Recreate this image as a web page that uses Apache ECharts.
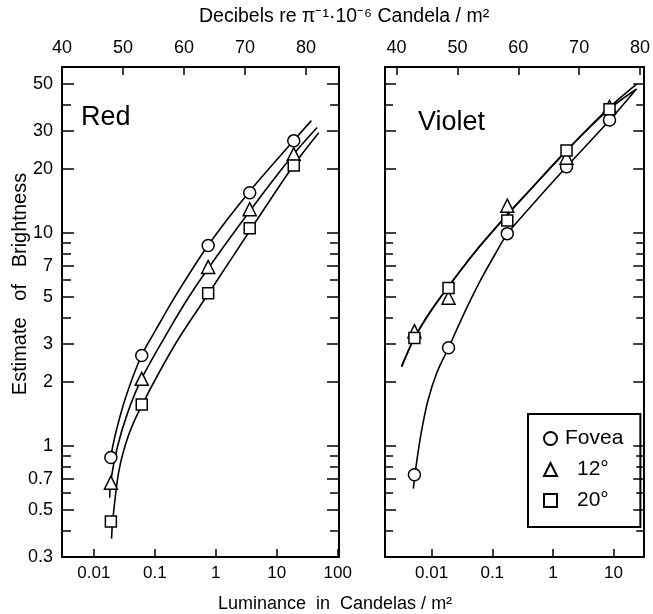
<!DOCTYPE html>
<html>
<head>
<meta charset="utf-8">
<script src="https://cdn.jsdelivr.net/npm/echarts@6/dist/echarts.min.js"></script>
<style>
	html, body { margin: 0; padding: 0; background: #fff; }
	#chart { width: 653px; height: 614px; }
</style>
</head>
<body>
<div id="chart"></div>
<script>
	// stimulus luminance (cd/m2) and brightness estimates
	const redLuminance = [0.019, 0.061, 0.75, 3.6, 19];
	const redFovea = [0.88, 2.65, 8.7, 15.4, 27];
	const red12 = [0.67, 2.06, 6.9, 12.9, 23.4];
	const red20 = [0.44, 1.56, 5.2, 10.5, 20.7];

	const violetLuminance = [0.0052, 0.019, 0.177, 1.68, 8.6];
	const violetFovea = [0.73, 2.88, 9.9, 20.4, 33.8];
	const violet12 = [3.45, 4.95, 13.4, 22.5, 39];
	const violet20 = [3.2, 5.5, 11.4, 24.3, 38];

	// fitted curves, [luminance, estimate]
	const redFoveaCurve = [[0.0188, 0.88], [0.0227, 1.14], [0.0331, 1.68], [0.0605, 2.65], [0.102, 3.47], [0.21, 4.96], [0.745, 8.7], [3.44, 15.4], [18.8, 27], [37, 33.6]];
	const red12Curve = [[0.0182, 0.57], [0.0188, 0.67], [0.0242, 0.98], [0.0353, 1.41], [0.0605, 2.06], [0.168, 3.47], [0.356, 4.96], [0.767, 6.87], [3.8, 12.9], [19, 23.4], [45.9, 31.2]];
	const red20Curve = [[0.0195, 0.366], [0.0203, 0.44], [0.0257, 0.76], [0.0375, 1.13], [0.062, 1.56], [0.218, 3.01], [0.759, 5.18], [3.85, 10.5], [18.8, 20.7], [48.9, 29.5]];
	const violetFoveaCurve = [[0.00498, 0.628], [0.0057, 0.85], [0.00683, 1.176], [0.00867, 1.626], [0.01217, 2.2], [0.019, 2.88], [0.0348, 4.21], [0.0635, 5.95], [0.115, 8.05], [0.178, 9.9], [0.405, 13.0], [1.68, 20.4], [8.7, 33.8], [24.1, 47.4]];
	const violet20Curve = [[0.00319, 2.35], [0.00513, 3.18], [0.00927, 4.21], [0.0178, 5.46], [0.054, 8.23], [0.17, 12.0], [0.405, 15.7], [1.68, 24.3], [8.5, 38.7], [24.1, 49.9]];
	const violet12Curve = [[0.00319, 2.35], [0.00513, 3.18], [0.00927, 4.21], [0.0178, 5.46], [0.054, 8.23], [0.17, 12.0], [0.405, 15.7], [1.68, 24.3], [8.3, 37.8], [22.7, 46.8]];

	// axis ticks
	const luminanceTicks = [0.01, 0.1, 1, 10, 100];
	const decibelTicks = [40, 50, 60, 70, 80];
	const estimateLabels = [0.3, 0.5, 0.7, 1, 2, 3, 5, 7, 10, 20, 30, 50];
	const estimateMinor = [0.4, 0.6, 0.8, 0.9, 4, 6, 8, 9, 40];

	const FONT = "Liberation Sans";
	const fmt = v => String(parseFloat(Number(v).toPrecision(6)));
	const black = { color: "#000", width: 2 };

	const bottomAxis = (gridIndex, min, max) => ({
		type: "log", gridIndex, position: "bottom", min, max,
		axisLine: { lineStyle: black },
		axisTick: { inside: true, length: 8, customValues: luminanceTicks, lineStyle: { color: "#000", width: 1.5 } },
		axisLabel: { customValues: luminanceTicks, formatter: fmt, color: "#000", fontSize: 17, fontFamily: FONT, margin: 8 },
		splitLine: { show: false }
	});

	const topAxis = (gridIndex, min, max) => ({
		type: "value", gridIndex, position: "top", min, max,
		axisLine: { lineStyle: black },
		axisTick: { inside: true, length: 8, customValues: decibelTicks, lineStyle: { color: "#000", width: 1.5 } },
		axisLabel: { customValues: decibelTicks, color: "#000", fontSize: 18, fontFamily: FONT, margin: 10 },
		splitLine: { show: false }
	});

	const estimateAxis = (gridIndex, position, ticks, length, withLabels) => ({
		type: "log", gridIndex, position, min: 0.3, max: 60,
		axisLine: { show: withLabels !== undefined, lineStyle: black },
		axisTick: { inside: true, length, customValues: ticks, lineStyle: { color: "#000", width: 1.5 } },
		axisLabel: {
			show: !!withLabels, customValues: estimateLabels, formatter: fmt,
			color: "#000", fontSize: 18, fontFamily: FONT, margin: 9
		},
		splitLine: { show: false }
	});

	const marker = (name, symbol, size, xIndex, yIndex, lum, est) => ({
		name, type: "scatter", symbol, symbolSize: size,
		xAxisIndex: xIndex, yAxisIndex: yIndex, z: 5,
		itemStyle: { color: "#fff", borderColor: "#000", borderWidth: 1.5, opacity: 1 },
		data: lum.map((l, i) => [l, est[i]])
	});

	const curve = (xIndex, yIndex, pts) => ({
		type: "line", xAxisIndex: xIndex, yAxisIndex: yIndex, data: pts,
		symbol: "none", smooth: 0.3, silent: true, z: 2,
		lineStyle: { color: "#000", width: 1.6 }
	});

	const chart = echarts.init(document.getElementById("chart"));

	chart.setOption({
		animation: false,
		backgroundColor: "#fff",
		textStyle: { fontFamily: FONT },
		title: [
			{ text: "Decibels re π⁻¹·10⁻⁶ Candela / m²", left: 194, top: 2, textStyle: { fontSize: 19.5, fontWeight: "normal", color: "#000", fontFamily: FONT } },
			{ text: "Red", left: 76, top: 99, textStyle: { fontSize: 27, fontWeight: "normal", color: "#000", fontFamily: FONT } },
			{ text: "Violet", left: 413, top: 104, textStyle: { fontSize: 27, fontWeight: "normal", color: "#000", fontFamily: FONT } },
			{ text: "Luminance  in  Candelas / m²", left: 213, top: 590, textStyle: { fontSize: 18, fontWeight: "normal", color: "#000", fontFamily: FONT } }
		],
		graphic: [{
			type: "text", x: 20, y: 284, rotation: Math.PI / 2,
			style: { text: "Estimate   of   Brightness", fontSize: 20, fontFamily: FONT, fill: "#000", align: "center", verticalAlign: "middle" }
		}],
		legend: {
			orient: "vertical", left: 528, top: 414,
			padding: [14, 17, 16, 15], itemGap: 10, itemWidth: 13, itemHeight: 13,
			borderColor: "#000", borderWidth: 2,
			data: [{ name: "Fovea", icon: "circle" }, { name: "12°", icon: "triangle" }, { name: "20°", icon: "rect" }],
			formatter: n => n === "Fovea" ? "{a|" + n + "}" : "{b|" + n + "}",
			textStyle: {
				color: "#000", fontSize: 21, fontFamily: FONT,
				rich: { a: { fontSize: 21, padding: [0, 0, 0, 3] }, b: { fontSize: 21, padding: [0, 0, 0, 15] } }
			}
		},
		grid: [
			{ left: 62, top: 67, width: 277, height: 490 },
			{ left: 385, top: 67, width: 261, height: 490 }
		],
		xAxis: [
			bottomAxis(0, 0.003, 105),
			topAxis(0, 40, 85.4),
			bottomAxis(1, 0.0017, 32.2),
			topAxis(1, 38.1, 80.7)
		],
		yAxis: [
			estimateAxis(0, "left", estimateLabels, 12, true),
			estimateAxis(0, "left", estimateMinor, 9),
			estimateAxis(0, "right", estimateLabels, 12, false),
			estimateAxis(0, "right", estimateMinor, 9),
			estimateAxis(1, "left", estimateLabels, 11, false),
			estimateAxis(1, "left", estimateMinor, 8),
			estimateAxis(1, "right", estimateLabels, 11, false),
			estimateAxis(1, "right", estimateMinor, 8)
		],
		series: [
			curve(0, 0, redFoveaCurve),
			curve(0, 0, red12Curve),
			curve(0, 0, red20Curve),
			marker("Fovea", "circle", 12, 0, 0, redLuminance, redFovea),
			marker("12°", "triangle", 13, 0, 0, redLuminance, red12),
			marker("20°", "rect", 11, 0, 0, redLuminance, red20),
			curve(2, 4, violetFoveaCurve),
			curve(2, 4, violet12Curve),
			curve(2, 4, violet20Curve),
			marker("Fovea", "circle", 12, 2, 4, violetLuminance, violetFovea),
			marker("12°", "triangle", 13, 2, 4, violetLuminance, violet12),
			marker("20°", "rect", 11, 2, 4, violetLuminance, violet20)
		]
	});
</script>
</body>
</html>
